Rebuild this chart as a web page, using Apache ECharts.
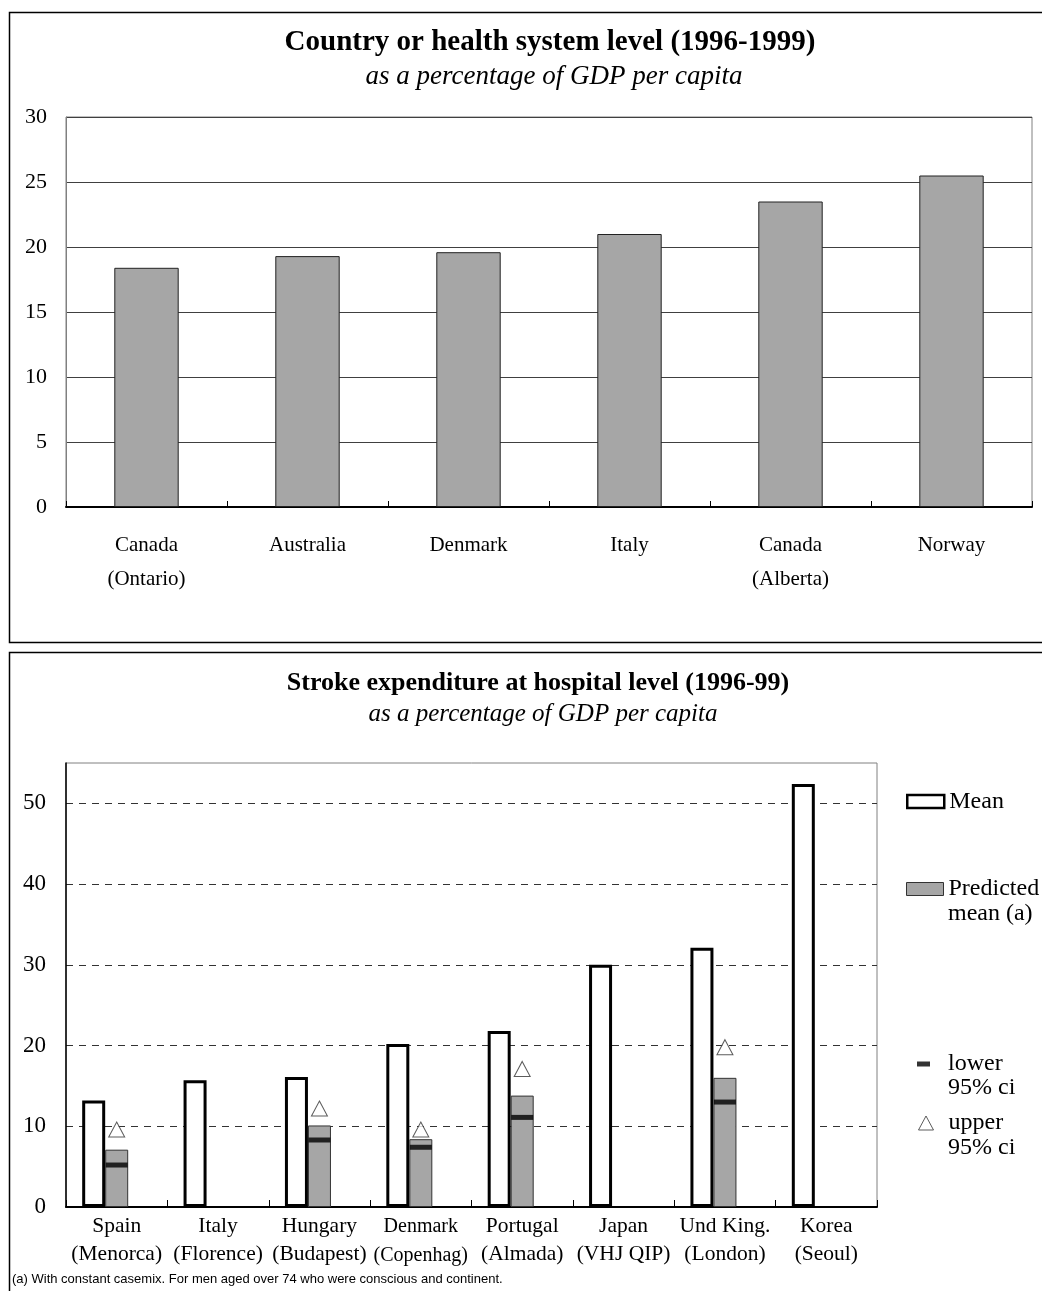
<!DOCTYPE html>
<html><head><meta charset="utf-8">
<script src="https://cdn.jsdelivr.net/npm/echarts@6/dist/echarts.min.js"></script>
<style>html,body{margin:0;padding:0;background:#fff}#c{width:1042px;height:1291px}</style>
</head><body><div id="c"></div>
<script>
// ---- Panel 1: country / health system level ----
const topCategories = ['Canada\n(Ontario)', 'Australia', 'Denmark', 'Italy', 'Canada\n(Alberta)', 'Norway'];
const topValues = [18.4, 19.3, 19.6, 21.0, 23.5, 25.5];
const topTicks = [0, 5, 10, 15, 20, 25, 30];

// ---- Panel 2: stroke expenditure at hospital level ----
const hospCategories = ['Spain\n(Menorca)', 'Italy\n(Florence)', 'Hungary\n(Budapest)', 'Denmark\n(Copenhag)',
  'Portugal\n(Almada)', 'Japan\n(VHJ QIP)', 'Und King.\n(London)', 'Korea\n(Seoul)'];
const meanValues = [13.2, 15.7, 16.1, 20.2, 21.8, 30.0, 32.1, 52.4];
const predictedValues = [7.1, null, 10.1, 8.4, 13.8, null, 16.0, null];
const lowerCI = [5.2, null, 8.3, 7.4, 11.1, null, 13.0, null];
const upperCI = [9.6, null, 12.2, 9.6, 17.1, null, 19.8, null];
const hospTicks = [0, 10, 20, 30, 40, 50];

const SERIF = '"Liberation Serif","Times New Roman",serif';
const chart = echarts.init(document.getElementById('c'), null, {renderer: 'canvas'});

function txt(x, y, s, font, align) {
  return {type: 'text', x: x, y: y, silent: true,
    style: {text: s, font: font, fill: '#000', textAlign: align || 'left', textVerticalAlign: 'middle'}};
}

const legendText = {fontFamily: SERIF, fontSize: 24, color: '#000'};

const option = {
  animation: false,
  backgroundColor: '#fff',
  textStyle: {fontFamily: SERIF, color: '#000'},
  graphic: [
    {type: 'rect', shape: {x: 9.5, y: 12.5, width: 1100, height: 630}, style: {fill: 'none', stroke: '#000', lineWidth: 1.5}, silent: true},
    {type: 'rect', shape: {x: 9.5, y: 652.5, width: 1100, height: 700}, style: {fill: 'none', stroke: '#000', lineWidth: 1.5}, silent: true},
    txt(550, 43, 'Country or health system level (1996-1999)', 'bold 29px ' + SERIF, 'center'),
    txt(554, 77, 'as a percentage of GDP per capita', 'italic 27px ' + SERIF, 'center'),
    txt(538, 683, 'Stroke expenditure at hospital level (1996-99)', 'bold 26px ' + SERIF, 'center'),
    txt(543, 714, 'as a percentage of GDP per capita', 'italic 25px ' + SERIF, 'center'),
    txt(948, 914, 'mean (a)', '24px ' + SERIF),
    txt(948, 1088, '95% ci', '24px ' + SERIF),
    txt(948, 1148, '95% ci', '24px ' + SERIF),
    txt(12, 1279, '(a) With constant casemix. For men aged over 74 who were conscious and continent.', '13px "Liberation Sans",Arial,sans-serif')
  ],
  legend: [
    {left: 906, top: 789.5, padding: 0, orient: 'vertical', selectedMode: false, itemWidth: 37, itemHeight: 13,
      textStyle: legendText,
      data: [{name: 'Mean', icon: 'rect', itemStyle: {color: '#fff', borderColor: '#000', borderWidth: 2.5}}]},
    {left: 906, top: 877, padding: 0, orient: 'vertical', selectedMode: false, itemWidth: 37, itemHeight: 13,
      formatter: () => 'Predicted',
      textStyle: legendText,
      data: [{name: 'Predicted mean (a)', icon: 'rect', itemStyle: {color: '#a6a6a6', borderColor: '#333', borderWidth: 1}}]},
    {left: 917, top: 1052, padding: 0, orient: 'vertical', selectedMode: false, itemWidth: 13, itemHeight: 5,
      formatter: () => 'lower',
      textStyle: Object.assign({}, legendText, {padding: [0, 0, 0, 13]}),
      data: [{name: 'lower 95% ci', icon: 'rect', itemStyle: {color: '#000', borderWidth: 0}}]},
    {left: 918, top: 1111, padding: 0, orient: 'vertical', selectedMode: false, itemWidth: 15, itemHeight: 14,
      formatter: () => 'upper',
      textStyle: Object.assign({}, legendText, {padding: [0, 0, 0, 10]}),
      data: [{name: 'upper 95% ci', icon: 'triangle', itemStyle: {color: '#fff', borderColor: '#333', borderWidth: 1}}]}
  ],
  grid: [
    {left: 66, top: 117, width: 966, height: 390, show: true, borderColor: '#808080', borderWidth: 1, backgroundColor: '#fff'},
    {left: 66, top: 763, width: 811, height: 444, show: true, borderColor: '#808080', borderWidth: 1, backgroundColor: '#fff'}
  ],
  xAxis: [
    {type: 'category', gridIndex: 0, data: topCategories, boundaryGap: true,
      axisLine: {lineStyle: {color: '#000', width: 2}},
      axisTick: {show: true, inside: true, length: 6, lineStyle: {color: '#000'}},
      axisLabel: {fontFamily: SERIF, fontSize: 21, color: '#000', lineHeight: 34, margin: 21, interval: 0}},
    {type: 'category', gridIndex: 1, data: hospCategories, boundaryGap: true,
      axisLine: {lineStyle: {color: '#000', width: 2}},
      axisTick: {show: true, inside: true, length: 7, lineStyle: {color: '#000'}},
      axisLabel: {interval: 0, margin: 5,
        formatter: (v, i) => {
          const parts = v.split('\n');
          const s = i === 3 ? 's' : 'n';
          return '{' + s + '|' + parts[0] + '}\n{' + s + '|' + parts[1] + '}';
        },
        rich: {
          n: {fontFamily: SERIF, fontSize: 21.5, color: '#000', lineHeight: 28},
          s: {fontFamily: SERIF, fontSize: 20, color: '#000', lineHeight: 29}
        }}}
  ],
  yAxis: [
    {type: 'value', gridIndex: 0, min: topTicks[0], max: topTicks[topTicks.length - 1], interval: topTicks[1] - topTicks[0],
      axisLine: {show: true, lineStyle: {color: '#808080'}},
      axisTick: {show: false},
      axisLabel: {fontFamily: SERIF, fontSize: 22, color: '#000', margin: 19},
      splitLine: {lineStyle: {color: '#404040', width: 1}}},
    {type: 'value', gridIndex: 1, min: hospTicks[0], max: 55, interval: hospTicks[1] - hospTicks[0],
      axisLine: {show: true, lineStyle: {color: '#000', width: 1.5}},
      axisTick: {show: false},
      axisLabel: {fontFamily: SERIF, fontSize: 23, color: '#000', margin: 20, showMaxLabel: false},
      splitLine: {showMaxLine: false, lineStyle: {color: '#333', width: 1, type: [7, 6]}}}
  ],
  series: [
    {name: 'Country', type: 'bar', xAxisIndex: 0, yAxisIndex: 0, data: topValues, barWidth: '40%',
      itemStyle: {color: '#a6a6a6', borderColor: '#222', borderWidth: 1}},
    {name: 'Mean', type: 'bar', xAxisIndex: 1, yAxisIndex: 1, data: meanValues, barWidth: 23, barGap: '0%',
      itemStyle: {color: '#fff', borderColor: '#000', borderWidth: 3}},
    {name: 'Predicted mean (a)', type: 'bar', xAxisIndex: 1, yAxisIndex: 1, data: predictedValues, barWidth: 23, barGap: '0%',
      itemStyle: {color: '#a6a6a6', borderColor: '#333', borderWidth: 1}},
    {name: 'spacer', type: 'bar', xAxisIndex: 1, yAxisIndex: 1, data: hospCategories.map(() => null), barWidth: 23, barGap: '0%',
      itemStyle: {color: 'transparent'}},
    {name: 'lower 95% ci', type: 'scatter', xAxisIndex: 1, yAxisIndex: 1, data: lowerCI, symbol: 'rect', symbolSize: [22, 5],
      itemStyle: {color: '#000'}, z: 5},
    {name: 'upper 95% ci', type: 'scatter', xAxisIndex: 1, yAxisIndex: 1, data: upperCI, symbol: 'triangle', symbolSize: [16, 15],
      itemStyle: {color: '#fff', borderColor: '#333', borderWidth: 1}, z: 5}
  ]
};
chart.setOption(option);
</script>
</body></html>
